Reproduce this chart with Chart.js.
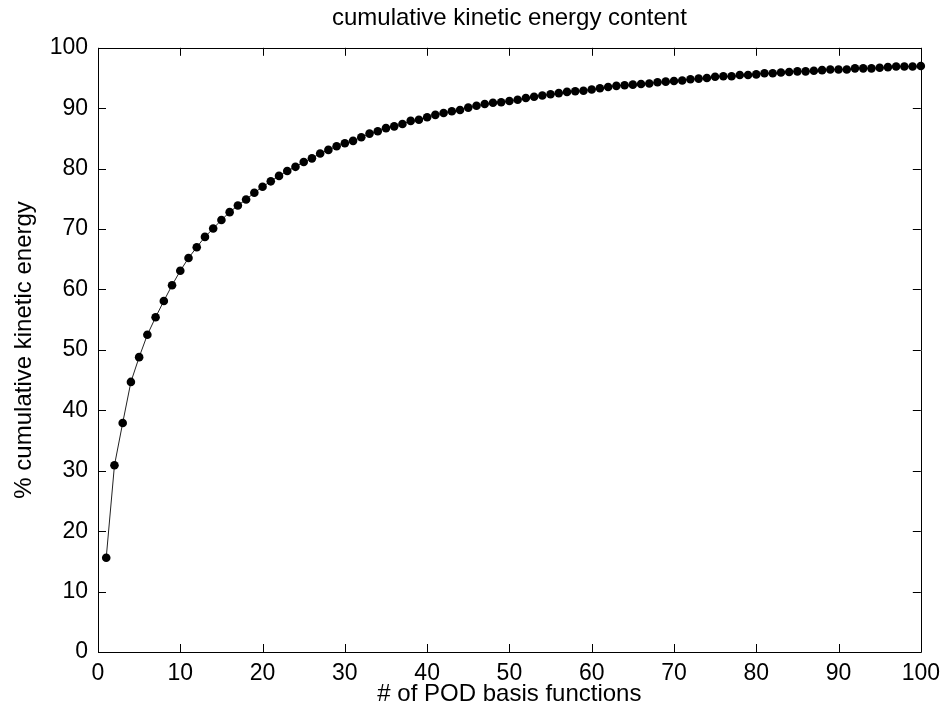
<!DOCTYPE html>
<html>
<head>
<meta charset="utf-8">
<script src="https://cdn.jsdelivr.net/npm/chart.js@4/dist/chart.umd.min.js"></script>
<style>
    html, body { margin: 0; padding: 0; background: #fff; }
    #chart-energy { display: block; }
</style>
</head>
<body>
<canvas id="chart-energy" width="948" height="715"></canvas>
<script>
var nModes = [1, 2, 3, 4, 5, 6, 7, 8, 9, 10,
    11, 12, 13, 14, 15, 16, 17, 18, 19, 20,
    21, 22, 23, 24, 25, 26, 27, 28, 29, 30,
    31, 32, 33, 34, 35, 36, 37, 38, 39, 40,
    41, 42, 43, 44, 45, 46, 47, 48, 49, 50,
    51, 52, 53, 54, 55, 56, 57, 58, 59, 60,
    61, 62, 63, 64, 65, 66, 67, 68, 69, 70,
    71, 72, 73, 74, 75, 76, 77, 78, 79, 80,
    81, 82, 83, 84, 85, 86, 87, 88, 89, 90,
    91, 92, 93, 94, 95, 96, 97, 98, 99, 100];

var energy = [15.6, 30.9, 37.9, 44.7, 48.8, 52.5, 55.4, 58.1, 60.7, 63.1,
    65.2, 67.0, 68.7, 70.1, 71.5, 72.8, 73.9, 74.9, 76.0, 77.0,
    77.9, 78.8, 79.6, 80.3, 81.1, 81.7, 82.5, 83.1, 83.7, 84.2,
    84.6, 85.2, 85.8, 86.2, 86.7, 87.0, 87.4, 87.9, 88.1, 88.5,
    88.9, 89.2, 89.5, 89.7, 90.1, 90.4, 90.7, 90.9, 91.0, 91.2,
    91.4, 91.7, 91.9, 92.1, 92.3, 92.5, 92.7, 92.8, 92.9, 93.1,
    93.3, 93.5, 93.7, 93.8, 93.9, 94.0, 94.1, 94.3, 94.4, 94.5,
    94.6, 94.8, 94.9, 95.0, 95.2, 95.3, 95.3, 95.5, 95.5, 95.6,
    95.8, 95.8, 95.9, 96.0, 96.1, 96.1, 96.2, 96.3, 96.4, 96.4,
    96.4, 96.6, 96.6, 96.6, 96.7, 96.8, 96.9, 96.9, 96.9, 97.0];

var xTicks = [0, 10, 20, 30, 40, 50, 60, 70, 80, 90, 100];
var yTicks = [0, 10, 20, 30, 40, 50, 60, 70, 80, 90, 100];

var FONT = "'Liberation Sans', Arial, sans-serif";

var points = [];
for (i in nModes) {
    points.push({ x: nModes[i], y: energy[i] });
};

// matlab style box with ticks pointing inwards on all four sides
var boxTicks = {
    id: "boxTicks",
    afterDatasetsDraw: function (chart) {
        var ctx = chart.ctx;
        var a = chart.chartArea;
        var xs = chart.scales.x;
        var ys = chart.scales.y;
        var len = 8;
        ctx.save();
        ctx.strokeStyle = "#000";
        ctx.lineWidth = 1;
        ctx.beginPath();
        ctx.rect(Math.round(a.left) + 0.5, Math.round(a.top) + 0.5, Math.round(a.right - a.left), Math.round(a.bottom - a.top));
        xTicks.forEach(function (v) {
            var px = Math.round(xs.getPixelForValue(v)) + 0.5;
            ctx.moveTo(px, a.bottom);
            ctx.lineTo(px, a.bottom - len);
            ctx.moveTo(px, a.top);
            ctx.lineTo(px, a.top + len);
        });
        yTicks.forEach(function (v) {
            var py = Math.round(ys.getPixelForValue(v)) + 0.5;
            ctx.moveTo(a.left, py);
            ctx.lineTo(a.left + len, py);
            ctx.moveTo(a.right, py);
            ctx.lineTo(a.right - len, py);
        });
        ctx.stroke();
        ctx.restore();
    }
};

new Chart("chart-energy", {
    type: "line",
    data: {
        datasets: [{
            label: "cumulative kinetic energy",
            data: points,
            borderColor: "#222",
            borderWidth: 1,
            backgroundColor: "#000",
            pointBackgroundColor: "#000",
            pointBorderColor: "#000",
            pointBorderWidth: 0,
            pointRadius: 4.3,
            tension: 0,
            clip: false
        }]
    },
    options: {
        responsive: false,
        animation: false,
        events: [],
        layout: {
            padding: { left: 0, right: 25, top: 0, bottom: 0 }
        },
        plugins: {
            legend: { display: false },
            tooltip: { enabled: false },
            title: {
                display: true,
                text: "cumulative kinetic energy content",
                color: "#000",
                fullSize: false,
                font: { family: FONT, size: 24, weight: "normal", lineHeight: 1.2 },
                padding: { top: 4, bottom: 15 }
            }
        },
        scales: {
            x: {
                type: "linear",
                min: 0,
                max: 100,
                afterBuildTicks: function (scale) {
                    scale.ticks = xTicks.map(function (v) { return { value: v }; });
                },
                afterFit: function (scale) { scale.height = 63; },
                grid: { display: false, drawTicks: false },
                border: { display: false },
                ticks: {
                    color: "#000",
                    padding: 8,
                    maxRotation: 0,
                    font: { family: FONT, size: 23, lineHeight: 1.2 }
                },
                title: {
                    display: true,
                    text: "# of POD basis functions",
                    color: "#000",
                    font: { family: FONT, size: 24, lineHeight: 1.2 },
                    padding: { top: 0, bottom: 6 }
                }
            },
            y: {
                type: "linear",
                min: 0,
                max: 100,
                afterBuildTicks: function (scale) {
                    scale.ticks = yTicks.map(function (v) { return { value: v }; });
                },
                afterFit: function (scale) { scale.width = 98; },
                grid: { display: false, drawTicks: false },
                border: { display: false },
                ticks: {
                    color: "#000",
                    padding: 10,
                    font: { family: FONT, size: 23, lineHeight: 1.2 }
                },
                title: {
                    display: true,
                    text: "% cumulative kinetic energy",
                    color: "#000",
                    font: { family: FONT, size: 24, lineHeight: 1.2 },
                    padding: { top: 10, bottom: 0 }
                }
            }
        }
    },
    plugins: [boxTicks]
});
</script>
</body>
</html>
